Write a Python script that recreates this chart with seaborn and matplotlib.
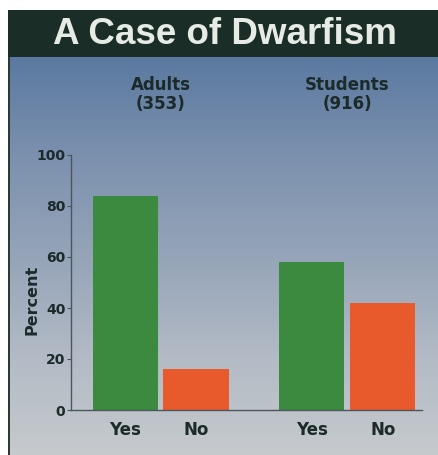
import numpy as np
import pandas as pd
import matplotlib
matplotlib.use("Agg")
import matplotlib.pyplot as plt
from matplotlib.colors import LinearSegmentedColormap
from matplotlib.patches import Rectangle
import seaborn as sns

# ---- data ----
groups = ["Adults", "Students"]
group_n = [353, 916]
responses = ["Yes", "No"]
adults_pct = [84, 16]
students_pct = [58, 42]
title = "A Case of Dwarfism"
y_ticks = [0, 20, 40, 60, 80, 100]

df = pd.DataFrame({
    "group": [g for g in groups for _ in responses],
    "response": responses * len(groups),
    "percent": adults_pct + students_pct,
})

sns.set_theme(style="white")
plt.rcParams['font.family'] = ['DejaVu Sans']
TXT = "#1c2a2a"

W, H = 438, 455
fig = plt.figure(figsize=(W / 100, H / 100), dpi=100, facecolor="white")

# background gradient panel
bg = fig.add_axes([8 / W, 0, 1 - 8 / W, (H - 57) / H])
cmap = LinearSegmentedColormap.from_list(
    "bg", ["#5a79a0", "#7c91ae", "#95a4b8", "#b2bac5", "#c6cacd"])
grad = np.linspace(0, 1, 256).reshape(-1, 1)
bg.imshow(grad, aspect="auto", cmap=cmap, extent=[0, 1, 0, 1], origin="upper")
bg.set_axis_off()
# left border line
fig.add_artist(Rectangle((8 / W, 0), 2 / W, 1 - 10 / H, transform=fig.transFigure,
                         facecolor="#2a3a36", edgecolor="none", zorder=5))
# header bar
fig.add_artist(Rectangle((8 / W, 1 - 57 / H), 1 - 8 / W, 47 / H,
                         transform=fig.transFigure, facecolor="#1b2d27",
                         edgecolor="none", zorder=5))
fig.text(225 / W, 1 - 34 / H, title, ha="center", va="center",
         color="#e6ebe6", fontsize=26.5, fontweight="bold",
         family=["Liberation Sans", "DejaVu Sans"], zorder=6)

# main axes
ax = fig.add_axes([71 / W, 1 - 410 / H, (422 - 71) / W, (410 - 155) / H])
ax.patch.set_alpha(0)
sns.barplot(data=df, x="group", y="percent", hue="response",
            palette={"Yes": "#3b8a3f", "No": "#e85a2c"},
            width=0.76, gap=0.08, saturation=1, legend=False,
            linewidth=0, ax=ax)

ax.set_ylim(0, 100)
ax.set_xlim(-0.48, 1.40)
ax.set_yticks(y_ticks)
ax.set_yticklabels([str(t) for t in y_ticks], fontweight="bold",
                   fontsize=10, color=TXT)
ax.tick_params(axis="y", length=3, width=0.8, color="#4a5560", pad=1, left=True)

# x ticks at bar centers
centers = sorted(p.get_x() + p.get_width() / 2 for p in ax.patches
                 if p.get_height() > 0)
labels = [responses[i % 2] for i in range(len(centers))]
ax.set_xticks(centers)
ax.set_xticklabels(labels, fontweight="bold", fontsize=12, color=TXT)
ax.tick_params(axis="x", length=0, pad=8)
ax.set_xlabel("")
ax.set_ylabel("Percent", fontweight="bold", fontsize=11.5, color=TXT)
ax.yaxis.set_label_coords(-0.09, 0.43)

for s in ["top", "right"]:
    ax.spines[s].set_visible(False)
for s in ["left", "bottom"]:
    ax.spines[s].set_color("#4a5560")
    ax.spines[s].set_linewidth(1.0)

# group labels
for i, (g, n) in enumerate(zip(groups, group_n)):
    ax.text(i, 1.165, f"{g}\n({n})", transform=ax.get_xaxis_transform(),
            ha="center", va="bottom", fontsize=12, fontweight="bold",
            color=TXT, linespacing=1.05)

fig.savefig("out.png", dpi=100, facecolor="white")
